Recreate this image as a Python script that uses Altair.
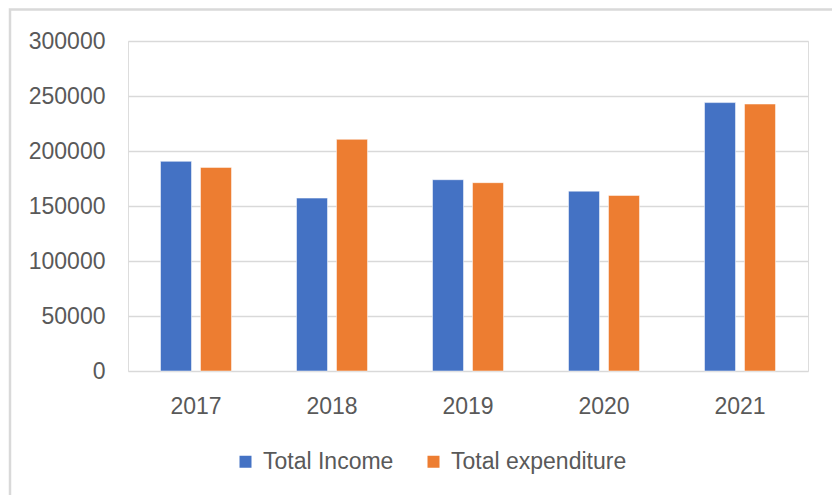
import altair as alt
import pandas as pd

years = ["2017", "2018", "2019", "2020", "2021"]
series = ["Total Income", "Total expenditure"]
income = [190600, 157200, 173900, 163500, 244000]
expenditure = [185100, 210600, 171200, 159600, 242700]
colors = ["#4472C4", "#ED7D31"]

rows = []
for i, y in enumerate(years):
    rows.append({"Year": y, "Series": series[0], "Value": income[i]})
    rows.append({"Year": y, "Series": series[1], "Value": expenditure[i]})
df = pd.DataFrame(rows)

FONT = "Liberation Sans"
TXT = "#595959"

bars = alt.Chart(df).mark_bar(stroke="white", strokeWidth=1, strokeOpacity=0.5).encode(
    x=alt.X("Year:N", sort=years,
            scale=alt.Scale(paddingInner=0.478, paddingOuter=0.239),
            axis=alt.Axis(title=None, labelAngle=0, domain=False, ticks=False,
                          labelPadding=24, labelFont=FONT, labelFontSize=23,
                          labelColor=TXT, grid=False)),
    xOffset=alt.XOffset("Series:N", sort=series,
                        scale=alt.Scale(paddingInner=0.225, paddingOuter=0)),
    y=alt.Y("Value:Q", scale=alt.Scale(domain=[0, 300000]),
            axis=alt.Axis(title=None, values=[0, 50000, 100000, 150000, 200000, 250000, 300000],
                          format="d", domain=False, ticks=False, labelPadding=23,
                          labelFont=FONT, labelFontSize=23, labelColor=TXT,
                          gridColor="#d9d9d9", gridWidth=1.5)),
    color=alt.Color("Series:N", sort=series,
                    scale=alt.Scale(domain=series, range=colors),
                    legend=alt.Legend(title=None, orient="none", direction="horizontal",
                                      legendX=106, legendY=409,
                                      symbolType="square", symbolSize=144,
                                      symbolStrokeWidth=0, labelLimit=400,
                                      labelFont=FONT, labelFontSize=23, labelColor=TXT,
                                      labelOffset=6, columnPadding=28)),
)

border = alt.Chart(pd.DataFrame({"a": [0]})).mark_rect(
    fill=None, stroke="#d9d9d9", strokeWidth=2.5
).encode(
    x=alt.value(-118), x2=alt.value(760),
    y=alt.value(-31.5), y2=alt.value(520),
)

chart = alt.layer(border, bars).properties(
    width=680, height=330,
    autosize=alt.AutoSizeParams(type="none"),
    padding={"left": 128, "top": 41, "right": 24, "bottom": 124},
).configure_view(stroke=None).configure(background="white")

chart.save("out.html", embed_options={"renderer": "svg", "actions": False})
